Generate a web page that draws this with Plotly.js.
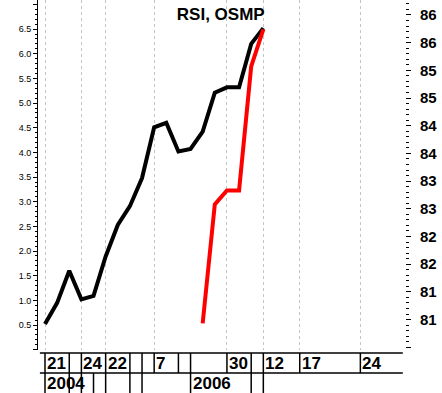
<!DOCTYPE html>
<html><head><meta charset="utf-8">
<script src="https://cdn.plot.ly/plotly-3.0.1.min.js"></script>
<style>html,body{margin:0;padding:0;background:#fff;overflow:hidden}</style>
</head><body><div id="chart" style="width:442px;height:393px"></div>
<script>
// ---- data ----
const rsiX = [0,1,2,3,4,5,6,7,8,9,10,11,12,13,14,15,16,17,18];
const rsi = [0.52,0.95,1.60,1.02,1.09,1.89,2.53,2.91,3.48,4.51,4.60,4.02,4.07,4.42,5.21,5.32,5.32,6.20,6.52];
const osmpX = [13,14,15,16,17,18];
const osmp = [80.83,82.98,83.23,83.23,85.47,86.14];
const dayTickIdx = [0,3,5,9,15,18,21,26];
const dayTickText = ['21','24','22','7','30','12','17','24'];
const yearTickIdx = [0,12];
const yearTickText = ['2004','2006'];
const row1Sep = [0,2,3,5,7,8,9,11,12,15,17,18,21,26];
const row2Sep = [0,2,3,4,5,7,8,12,17,18];
const leftTickVals = [0,0.5,1,1.5,2,2.5,3,3.5,4,4.5,5,5.5,6,6.5,7];
const leftTickText = ['','0.5','1.0','1.5','2.0','2.5','3.0','3.5','4.0','4.5','5.0','5.5','6.0','6.5',''];
const rightTickVals = [86.4,85.9,85.4,84.9,84.4,83.9,83.4,82.9,82.4,81.9,81.4,80.9,80.4];
const rightTickText = ['86','86','85','85','84','84','83','83','82','82','81','81',''];

// ---- layout helpers ----
const H = 350; // plot height px
const pY = px => -(px) / H; // px below plot bottom -> paper
const xL = -0.42, xR = 29.5;
const shapes = [];
const lineStyle = {color:'#000', width:1.5};
shapes.push({type:'line', xref:'x', yref:'paper', x0:xL, x1:xR, y0:pY(3), y1:pY(3), line:lineStyle});
shapes.push({type:'line', xref:'x', yref:'paper', x0:xL, x1:xR, y0:pY(23), y1:pY(23), line:lineStyle});
row1Sep.forEach(i => shapes.push({type:'line', xref:'x', yref:'paper', x0:i, x1:i, y0:pY(3), y1:pY(23), line:lineStyle}));
row2Sep.forEach(i => shapes.push({type:'line', xref:'x', yref:'paper', x0:i, x1:i, y0:pY(23), y1:pY(45), line:lineStyle}));

const annFont = {family:'Liberation Sans, Arial, sans-serif', size:17, color:'#000', weight:'bold'};
const annotations = [];
dayTickIdx.forEach((i,k) => annotations.push({xref:'x', yref:'paper', x:i, y:pY(13), xanchor:'left', yanchor:'middle', xshift:0, text:dayTickText[k], showarrow:false, font:annFont}));
yearTickIdx.forEach((i,k) => annotations.push({xref:'x', yref:'paper', x:i, y:pY(33), xanchor:'left', yanchor:'middle', text:yearTickText[k], showarrow:false, font:annFont}));

const traces = [
  {x: osmpX, y: osmp, yaxis:'y2', mode:'lines', line:{color:'#ff0000', width:4}, hoverinfo:'skip'},
  {x: rsiX, y: rsi, yaxis:'y', mode:'lines', line:{color:'#000000', width:4}, hoverinfo:'skip'}
];

const layout = {
  width:442, height:393,
  margin:{l:38, r:37, t:0, b:43, pad:0},
  paper_bgcolor:'#fff', plot_bgcolor:'#fff',
  showlegend:false,
  title:{text:'RSI, OSMP', x:0.498, xref:'paper', xanchor:'center', y:0.965, yref:'container', yanchor:'middle',
         font:{family:'Liberation Sans, Arial, sans-serif', size:17, weight:'bold', color:'#000'}},
  xaxis:{range:[-0.577, 29.68], tickmode:'array', tickvals:dayTickIdx, ticktext:dayTickText, showticklabels:false,
         ticks:'', showgrid:true, gridcolor:'#c4c4c4', griddash:'3px,3px', gridwidth:1, zeroline:false, showline:false, fixedrange:true},
  yaxis:{range:[-0.006, 7.09], tickmode:'array', tickvals:leftTickVals, ticktext:leftTickText, ticks:'outside', ticklen:4,
         tickcolor:'#000', showline:true, linecolor:'#000', linewidth:1, showgrid:false, zeroline:false,
         tickfont:{family:'Liberation Sans, Arial, sans-serif', size:9, color:'#000'},
         minor:{tick0:0, dtick:0.1, ticks:'outside', ticklen:2, tickcolor:'#000', showgrid:false}},
  yaxis2:{overlaying:'y', side:'right', range:[80.35, 86.67], tickmode:'array', tickvals:rightTickVals, ticktext:rightTickText,
          ticks:'outside', ticklen:5, tickcolor:'#000', showline:false, showgrid:false, zeroline:false, ticklabelstandoff:6,
          tickfont:{family:'Liberation Sans, Arial, sans-serif', size:15, color:'#000', weight:'bold'},
          minor:{tick0:80.4, dtick:0.1, ticks:'outside', ticklen:3, tickcolor:'#000', showgrid:false}},
  shapes: shapes,
  annotations: annotations
};
Plotly.newPlot('chart', traces, layout, {displayModeBar:false, staticPlot:true});
</script></body></html>
